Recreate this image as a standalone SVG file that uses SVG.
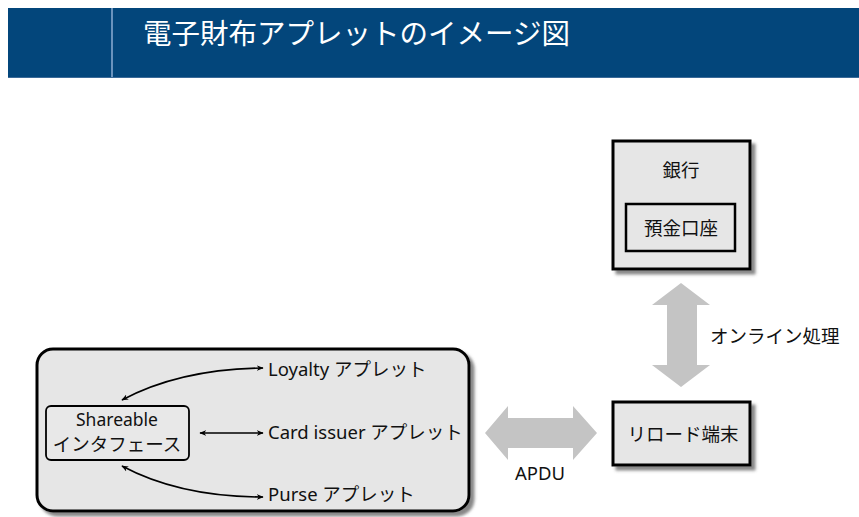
<svg xmlns="http://www.w3.org/2000/svg" width="859" height="517" viewBox="0 0 859 517">
<style>
  .jp { font-family: "Noto Sans", "Noto Sans CJK JP", sans-serif; fill: #111; font-size: 18.5px; }
  .box { fill: #e6e6e6; stroke: #000; stroke-width: 3; }
  .conn { fill: none; stroke: #000; stroke-width: 1.6; }
  .big { fill: #c4c4c4; }
</style>
<defs>
  <filter id="sh" x="-10%" y="-10%" width="130%" height="130%">
    <feDropShadow dx="4" dy="4" stdDeviation="1.5" flood-color="#555" flood-opacity="0.7"/>
  </filter>
  <marker id="ah" viewBox="0 0 10 10" refX="9" refY="5" markerWidth="7" markerHeight="7" markerUnits="userSpaceOnUse" orient="auto-start-reverse">
    <path d="M0,1 L10,5 L0,9 L3,5 Z" fill="#000"/>
  </marker>
</defs>
<rect width="859" height="517" fill="#fff"/>
<g id="header">
  <rect x="8" y="8" width="851" height="70" fill="#03467b"/>
  <line x1="112" y1="8" x2="112" y2="78" stroke="#6a93bd" stroke-width="2"/>
  <line x1="8" y1="77.5" x2="859" y2="77.5" stroke="#3b6a98" stroke-width="1"/>
  <text x="143" y="44" font-family="Noto Sans CJK JP, sans-serif" font-size="28.5" fill="#fff">電子財布アプレットのイメージ図</text>
</g>
<g id="card">
  <rect x="37" y="349" width="432" height="162" rx="16" class="box" fill="#e8e8e8" filter="url(#sh)" stroke-width="2.5"/>
</g>
<g id="shareable">
  <rect x="46" y="406" width="143" height="54" rx="5" fill="#e8e8e8" stroke="#000" stroke-width="1.8"/>
  <text x="117" y="426" text-anchor="middle" class="jp" style="font-size:17.5px">Shareable</text>
  <text x="117" y="451" text-anchor="middle" class="jp" style="font-size:18.5px">インタフェース</text>
</g>
<g id="loyalty"><text x="268" y="376" class="jp">Loyalty アプレット</text></g>
<g id="issuer"><text x="268" y="439" class="jp">Card issuer アプレット</text></g>
<g id="purse"><text x="268" y="501" class="jp">Purse アプレット</text></g>
<g id="bank">
  <rect x="613" y="141" width="137" height="128" class="box" filter="url(#sh)"/>
  <text x="681" y="177" text-anchor="middle" class="jp">銀行</text>
  <rect x="626" y="204" width="109" height="47" fill="#e6e6e6" stroke="#000" stroke-width="2.5"/>
  <text x="681" y="235" text-anchor="middle" class="jp">預金口座</text>
</g>
<g id="reload">
  <rect x="613" y="402" width="137" height="63" class="box" filter="url(#sh)"/>
  <text x="683" y="441" text-anchor="middle" class="jp">リロード端末</text>
</g>
<g id="connectors">
  <path class="conn" d="M122,400 Q180,369 263,368" marker-start="url(#ah)" marker-end="url(#ah)"/>
  <path class="conn" d="M200,433 L263,433" marker-start="url(#ah)" marker-end="url(#ah)"/>
  <path class="conn" d="M122,466 Q180,497 263,497" marker-start="url(#ah)" marker-end="url(#ah)"/>
  <path class="big" d="M681,283 L710,305 L697,305 L697,365 L710,365 L681,387 L652,365 L667,365 L667,305 L652,305 Z"/>
  <path class="big" d="M485,433 L508,406 L508,418 L573,418 L573,406 L597,433 L573,460 L573,448 L508,448 L508,460 Z"/>
  <text x="710" y="343" class="jp">オンライン処理</text>
  <text x="540" y="480" text-anchor="middle" class="jp">APDU</text>
</g>
</svg>
